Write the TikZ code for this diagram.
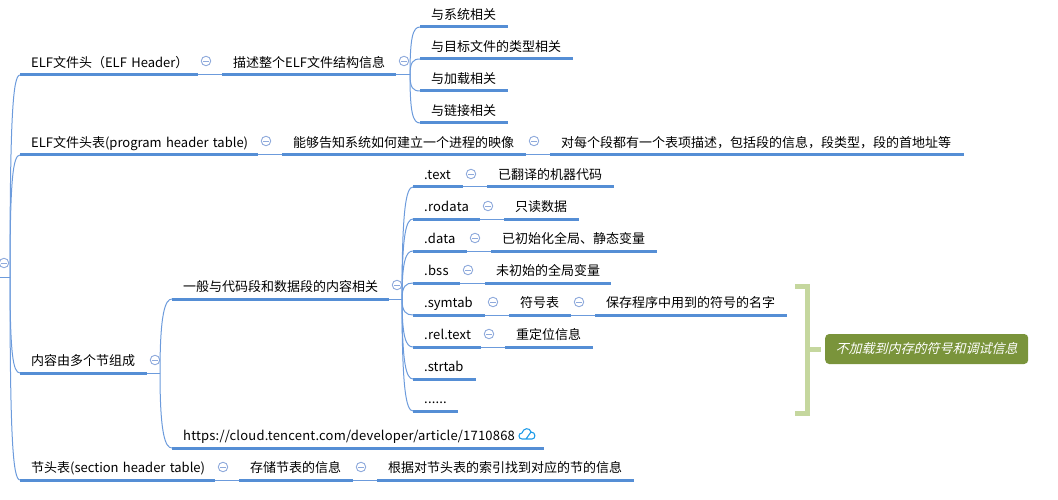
\documentclass[tikz,border=0pt]{standalone}
\usepackage{fontspec}
\setmainfont{Noto Sans CJK SC}
\newfontfamily\slantfont[FakeSlant=0.25]{Noto Sans CJK SC}
\newfontfamily\latfont[LetterSpace=1.5]{Noto Sans CJK SC}
\usepackage{tikz}
\usetikzlibrary{calc}
\definecolor{MapBlue}{HTML}{558ED5}
\definecolor{MapLink}{HTML}{6C9BDC}
\definecolor{MapToggle}{HTML}{8FAADC}
\definecolor{MapOlive}{HTML}{7A943B}
\definecolor{MapSage}{HTML}{C5D79E}
\definecolor{MapCloud}{HTML}{1E9BE8}
\tikzset{
    % Topic text above its rule
    topicnode/.style={
        anchor=south west,
        inner xsep=11pt,
        inner ysep=4pt,
        text height=11pt,
        text depth=3pt,
        text width=#1pt-22pt,
        align=left,
        font=\fontsize{13}{16}\selectfont
    },
    % Thick rule under a topic
    toprule/.style={
        draw=MapBlue,
        line width=3pt
    },
    % Thin connector
    maplink/.style={
        draw=MapLink,
        line width=1pt
    },
    % Collapse mark
    togglenode/.style={
        circle,
        draw=MapToggle,
        fill=white,
        line width=0.9pt,
        minimum size=9.5pt,
        inner sep=0pt,
        path picture={
            \draw[MapToggle,line width=0.9pt] ($(path picture bounding box.center)+(-3,0)$) -- ($(path picture bounding box.center)+(3,0)$);
        }
    },
    % Summary bracket
    bracketline/.style={
        draw=MapSage,
        line width=5pt
    },
    % Summary label
    summarynode/.style={
        anchor=west,
        fill=MapOlive,
        text=white,
        rounded corners=4pt,
        minimum width=203pt,
        minimum height=30pt,
        inner sep=0pt,
        font=\fontsize{13}{16}\slantfont
    }
}
\begin{document}
\begin{tikzpicture}[x=1pt,y=-1pt]
    \useasboundingbox (0,0) rectangle (1058,500);
    % Root stem
    \coordinate (rootin) at (0,277);
    \coordinate (rootfork) at (10,277);
    \node[togglenode] (troot) at (4,263) {};
    % ELF header
    \node[topicnode=178] (hdr) at (20,75) {\mbox{ELF文件头（ELF Header）}};
    \node[topicnode=174] (hdrinfo) at (222,75) {描述整个ELF文件结构信息};
    \node[topicnode=88] (hsys) at (420,27) {与系统相关};
    \node[topicnode=153] (hobj) at (420,59) {与目标文件的类型相关};
    \node[topicnode=88] (hload) at (420,91) {与加载相关};
    \node[topicnode=88] (hlink) at (420,123) {与链接相关};
    \coordinate (hdrfork) at (410,75);
    \node[togglenode] (thdr) at (206,61) {};
    \node[togglenode] (thdrinfo) at (404,61) {};
    % Program header table
    \node[topicnode=238] (prog) at (20,155) {\mbox{ELF文件头表(program header table)}};
    \node[topicnode=244] (proginfo) at (282,155) {能够告知系统如何建立一个进程的映像};
    \node[topicnode=414] (progitem) at (550,155) {对每个段都有一个表项描述，包括段的信息，段类型，段的首地址等};
    \node[togglenode] (tprog) at (266,141) {};
    \node[togglenode] (tproginfo) at (534,141) {};
    % Sections
    \node[topicnode=127] (sect) at (20,373) {内容由多个节组成};
    \coordinate (sectfork) at (160,373);
    \node[togglenode] (tsect) at (155,360) {};
    \node[topicnode=217] (code) at (172,299) {一般与代码段和数据段的内容相关};
    \coordinate (codefork) at (402,299);
    \node[togglenode] (tcode) at (397,285) {};
    \node[topicnode=50] (text) at (413,187) {\latfont .text};
    \node[topicnode=127] (textinfo) at (487,187) {已翻译的机器代码};
    \node[togglenode] (ttext) at (471,174) {};
    \node[topicnode=67] (rodata) at (413,219) {\latfont .rodata};
    \node[topicnode=75] (rodatainfo) at (504,219) {只读数据};
    \node[togglenode] (trodata) at (488,206) {};
    \node[topicnode=54] (data) at (413,251) {\latfont .data};
    \node[topicnode=166] (datainfo) at (491,251) {已初始化全局、静态变量};
    \node[togglenode] (tdata) at (475,238) {};
    \node[topicnode=47] (bss) at (413,283) {\latfont .bss};
    \node[topicnode=126] (bssinfo) at (485,283) {未初始的全局变量};
    \node[togglenode] (tbss) at (468,270) {};
    \node[topicnode=72] (symtab) at (413,315) {.symtab};
    \node[topicnode=62] (symtabinfo) at (509,315) {符号表};
    \node[topicnode=192] (symtabname) at (595,315) {保存程序中用到的符号的名字};
    \node[togglenode] (tsymtab) at (493,302) {};
    \node[togglenode] (tsymtabinfo) at (579,302) {};
    \node[topicnode=68] (rel) at (413,347) {\latfont .rel.text};
    \node[topicnode=88] (relinfo) at (505,347) {重定位信息};
    \node[togglenode] (trel) at (489,334) {};
    \node[topicnode=63] (strtab) at (413,379) {.strtab};
    \node[topicnode=45] (dots) at (413,411) {\latfont ......};
    \node[topicnode=372] (url) at (172,448) {\latfont https://cloud.tencent.com/developer/article/1710868};
    % Section header table
    \node[topicnode=195] (shdr) at (20,480) {\mbox{节头表(section header table)}};
    \node[topicnode=114] (shdrinfo) at (239,480) {存储节表的信息};
    \node[topicnode=257] (shdrindex) at (377,480) {根据对节头表的索引找到对应的节的信息};
    \node[togglenode] (tshdr) at (223,467) {};
    \node[togglenode] (tshdrinfo) at (361,467) {};
    % Summary
    \coordinate (bracktop) at (795,286);
    \coordinate (brackbot) at (795,413);
    \coordinate (brackmid) at (810,349);
    \node[summarynode] (summary) at (825,349) {不加载到内存的符号和调试信息};
    % Rules
    \foreach \n in {hdr,hdrinfo,hsys,hobj,hload,hlink,prog,proginfo,progitem,sect,code,text,textinfo,rodata,rodatainfo,data,datainfo,bss,bssinfo,symtab,symtabinfo,symtabname,rel,relinfo,strtab,dots,url,shdr,shdrinfo,shdrindex}
        \draw[toprule] (\n.south west) -- (\n.south east);
    % Straight links
    \foreach \a/\b in {hdr/hdrinfo,prog/proginfo,proginfo/progitem,text/textinfo,rodata/rodatainfo,data/datainfo,bss/bssinfo,symtab/symtabinfo,symtabinfo/symtabname,rel/relinfo,shdr/shdrinfo,shdrinfo/shdrindex}
        \draw[maplink] (\a.south east) -- (\b.south west);
    \draw[maplink] (hdrinfo.south east) -- (hdrfork);
    \draw[maplink] (sect.south east) -- (sectfork);
    \draw[maplink] (code.south east) -- (codefork);
    \draw[maplink] (rootin) -- (rootfork);
    % Curved links
    \foreach \f/\b in {rootfork/hdr,rootfork/prog,rootfork/sect,rootfork/shdr,hdrfork/hsys,hdrfork/hobj,hdrfork/hload,hdrfork/hlink,sectfork/code,sectfork/url,codefork/text,codefork/rodata,codefork/data,codefork/bss,codefork/symtab,codefork/rel,codefork/strtab,codefork/dots}
        \draw[maplink] (\f) .. controls ($(\f)!0.8!(\f|-\b.south west)$) and ($(\b.south west)+(-7,0)$) .. (\b.south west);
    % Bracket
    \draw[bracketline] (bracktop) -| (807.5,349) |- (brackbot);
    \draw[bracketline] (brackmid) -- (821,349);
    % Cloud mark
    \draw[MapCloud,line width=1.1pt,line join=round] (522,439) .. controls (518,439) and (518,433) .. (522,433) .. controls (523,428) and (530,427) .. (531,432) .. controls (536,432) and (536,439) .. (532,439) -- (522,439) (526,439) -- (531,432);
\end{tikzpicture}
\end{document}
